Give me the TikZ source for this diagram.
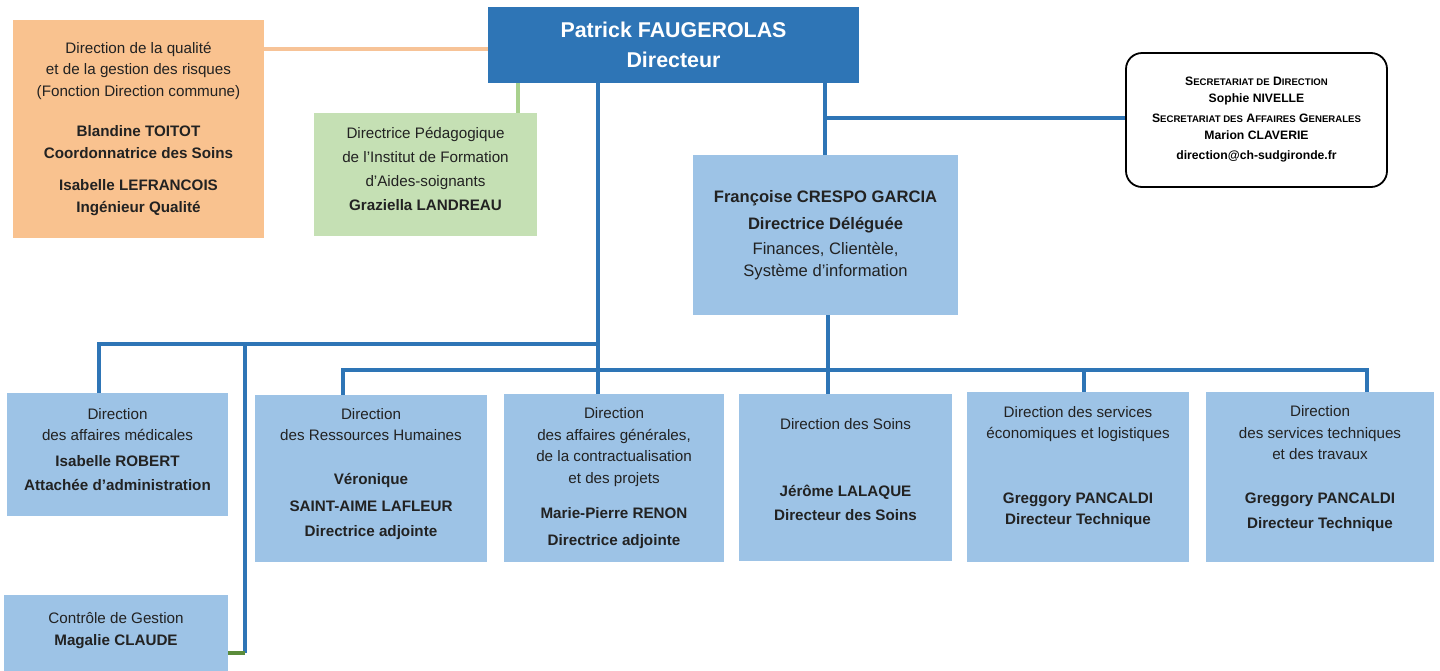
\documentclass[tikz,border=0pt]{standalone}
\usepackage{fontspec}
\setmainfont{Liberation Sans}
\definecolor{dblue}{HTML}{2E75B6}
\definecolor{lblue}{HTML}{9DC3E6}
\definecolor{peach}{HTML}{F9C28F}
\definecolor{peachline}{HTML}{F7C397}
\definecolor{lgreen}{HTML}{C5E0B4}
\definecolor{gline}{HTML}{A9D18E}
\definecolor{dgline}{HTML}{5B8C3A}
\definecolor{txt}{HTML}{222222}
\newcommand\bodyf{\fontsize{15.2}{21.5}\selectfont}
\newcommand\smc[1]{{\fontsize{9.6}{10}\selectfont #1}}
\tikzset{
  box/.style={fill=lblue, inner sep=0pt, align=center, font=\bodyf, text=txt},
  bline/.style={draw=dblue, line width=3.6pt, line join=miter},
}
\begin{document}
\begin{tikzpicture}[x=1pt,y=-1pt]
\useasboundingbox[fill=white] (0,0) rectangle (1440,670);
% top
\node[box, fill=dblue, text=white, font=\fontsize{21.4}{30}\selectfont\bfseries,
  minimum width=371, minimum height=76] (patrick) at (673.5,45) {Patrick FAUGEROLAS\\Directeur};
\node[box, fill=peach, minimum width=251, minimum height=218] (qual) at (138.5,129)
 {Direction de la qualité\\ et de la gestion des risques\\ (Fonction Direction commune)\\[19pt]
  \textbf{Blandine TOITOT}\\ \textbf{Coordonnatrice des Soins}\\[11pt]
  \textbf{Isabelle LEFRANCOIS}\\ \textbf{Ingénieur Qualité}};
\node[box, fill=lgreen, minimum width=223, minimum height=123, font=\fontsize{15.2}{24}\selectfont] (ifas) at (425.5,174.5)
 {Directrice Pédagogique\\ de l’Institut de Formation\\ d’Aides-soignants\\ \textbf{Graziella LANDREAU}\\[-12pt]\mbox{}};
\node[draw=black, line width=1.8pt, rounded corners=16pt, fill=white, inner sep=0pt, align=center,
  minimum width=261, minimum height=134, font=\fontsize{12.2}{16.5}\selectfont\bfseries, text=black] (secr) at (1256.5,120)
 {S\smc{ECRETARIAT DE} D\smc{IRECTION}\\ Sophie NIVELLE\\[4pt]
  S\smc{ECRETARIAT DES} A\smc{FFAIRES} G\smc{ENERALES}\\ Marion CLAVERIE\\[4pt]
  direction@ch-sudgironde.fr};
\node[box, minimum width=265, minimum height=160, font=\fontsize{16.6}{22.5}\selectfont] (crespo) at (825.5,235)
 {\textbf{Françoise CRESPO GARCIA}\\[5pt] \textbf{Directrice Déléguée}\\[2pt] Finances, Clientèle,\\ Système d’information};
% bottom row
\node[box, minimum width=221, minimum height=123] (med) at (117.5,454.5)
 {Direction\\ des affaires médicales\\[4pt] \textbf{Isabelle ROBERT}\\[3pt] \textbf{Attachée d’administration}\\[-11.5pt]\mbox{}};
\node[box, minimum width=232, minimum height=167] (drh) at (371,478.5)
 {Direction\\ des Ressources Humaines\\[22pt] \textbf{Véronique}\\[6pt] \textbf{SAINT-AIME LAFLEUR}\\[3pt] \textbf{Directrice adjointe}\\[-8.5pt]\mbox{}};
\node[box, minimum width=220, minimum height=168] (affgen) at (614,478)
 {Direction\\ des affaires générales,\\ de la contractualisation\\ et des projets\\[14pt] \textbf{Marie-Pierre RENON}\\[5pt] \textbf{Directrice adjointe}};
\node[box, minimum width=213, minimum height=167] (soins) at (845.5,477.5)
 {Direction des Soins\\[45pt] \textbf{Jérôme LALAQUE}\\[3pt] \textbf{Directeur des Soins}\\[-5.5pt]\mbox{}};
\node[box, minimum width=222, minimum height=170] (eco) at (1078,477)
 {Direction des services\\ économiques et logistiques\\[43pt] \textbf{Greggory PANCALDI}\\ \textbf{Directeur Technique}\\[1.5pt]\mbox{}};
\node[box, minimum width=228, minimum height=170] (tech) at (1320,477)
 {Direction\\ des services techniques\\ et des travaux\\[22pt] \textbf{Greggory PANCALDI}\\[4pt] \textbf{Directeur Technique}\\[-2pt]\mbox{}};
\node[box, minimum width=224, minimum height=80] (cdg) at (116,635)
 {Contrôle de Gestion\\[1pt] \textbf{Magalie CLAUDE}\\[-9.5pt]\mbox{}};
% junctions
\coordinate (busA) at (598,344);
\coordinate (busB) at (99,344);
\coordinate (busC) at (245,344);
\coordinate (busD) at (245,653);
\coordinate (busE) at (343,370);
\coordinate (busF) at (1367,370);
% connectors
\draw[draw=peachline, line width=3.6pt] (qual.east |- 0,49) -- (patrick.west |- 0,49);
\draw[draw=gline, line width=3.6pt] (patrick.south -| 518,0) -- (ifas.north -| 518,0);
\draw[bline] (patrick.south -| 598,0) -- (affgen.north -| 598,0);
\draw[bline] (patrick.south -| 825,0) -- (crespo.north -| 825,0);
\draw[bline] (825,118) -- (secr.west |- 0,118);
\draw[bline] (crespo.south -| 828,0) -- (soins.north -| 828,0);
\draw[bline] (busA) -- (busB) -- (med.north -| busB);
\draw[bline] (busC) -- (busD);
\draw[draw=dgline, line width=3.6pt] (busD) -- (cdg.east |- busD);
\draw[bline] (drh.north -| busE) -- (busE) -- (busF) -- (tech.north -| busF);
\draw[bline] (eco.north -| 1084,0) -- (1084,370);
\end{tikzpicture}
\end{document}
